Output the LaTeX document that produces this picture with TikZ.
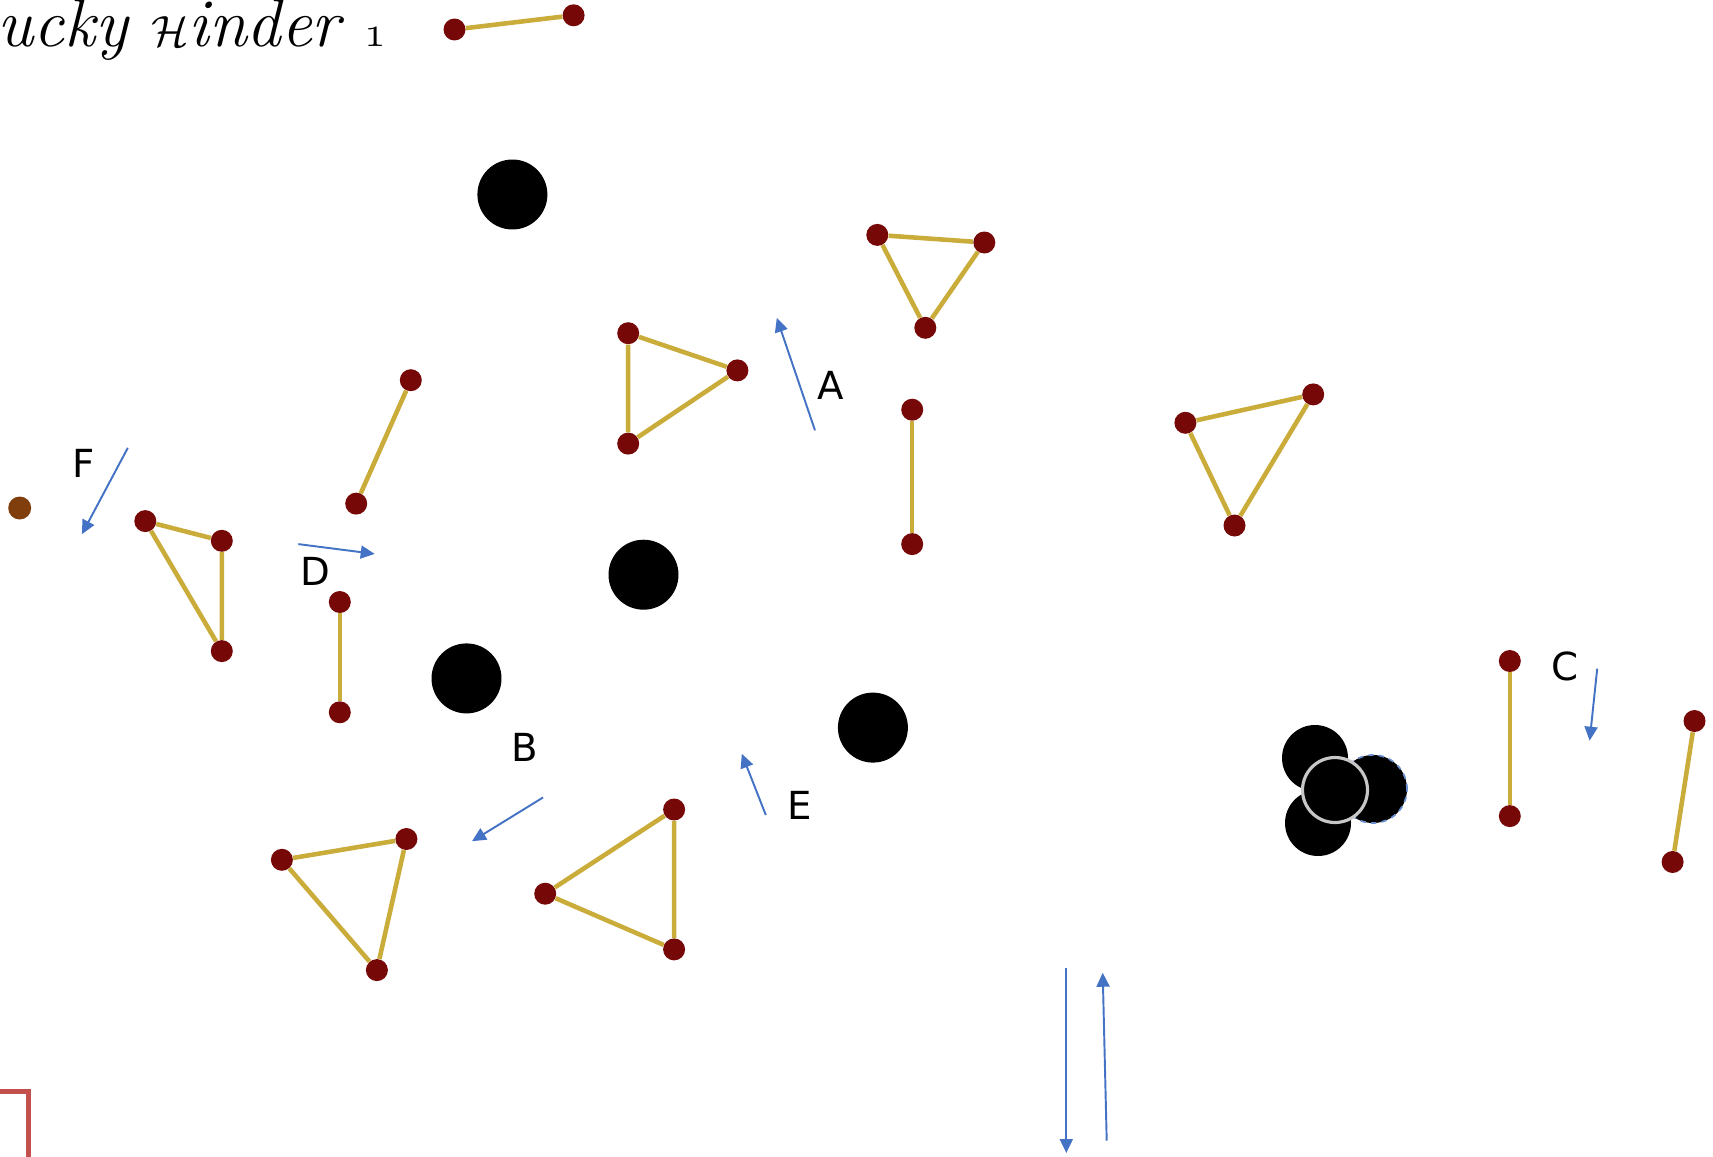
\documentclass[tikz,border=0pt]{standalone}
\usepackage{fontspec}
\newfontfamily\labfont{DejaVu Sans}
\usetikzlibrary{arrows.meta}
\definecolor{dotred}{RGB}{118,8,8}
\definecolor{dotbrown}{RGB}{128,62,12}
\definecolor{stickgold}{RGB}{202,172,58}
\definecolor{arrowblue}{RGB}{68,114,196}
\definecolor{boxred}{RGB}{196,80,77}
\tikzset{
  dot/.style={circle, fill=dotred, inner sep=0pt, minimum size=0.44cm},
  stick/.style={draw=stickgold, line width=2.6pt},
  ball/.style={circle, fill=black, inner sep=0pt, minimum size=1.4cm},
  move/.style={draw=arrowblue, line width=1.1pt, -{Triangle[length=0.28cm,width=0.26cm]}},
  lab/.style={font=\labfont\fontsize{22}{24}\selectfont, inner sep=0pt}
}
\begin{document}
\begin{tikzpicture}[x=0.02cm,y=-0.02cm]
\useasboundingbox (0,0) rectangle (1713,1156);
% title
\node[anchor=base east, inner sep=0pt, font=\fontsize{39}{42}\selectfont\itshape] (title) at (386,46) {Lucky {\usefont{OMS}{cmsy}{m}{n}H}inder {\usefont{OML}{cmm}{m}{it}1}};
% red box corner
\draw[draw=boxred, line width=2.8pt] (-50,1091.7) -- (28.3,1091.7) -- (28.3,1250);
% black balls
\node[ball] (b1) at (512.4,194.5) {};
\node[ball] (b2) at (643.5,574.7) {};
\node[ball] (b3) at (466.5,678.4) {};
\node[ball] (b4) at (872.9,727.6) {};
% cluster
\node[ball, minimum size=1.32cm] (c1) at (1315,758) {};
\node[ball, minimum size=1.32cm] (c2) at (1318,823) {};
\node[ball, minimum size=1.36cm, draw=arrowblue!80, dashed, line width=1pt] (c3) at (1373,789) {};
\node[ball, minimum size=1.3cm, draw=black!22, line width=1.8pt] (c4) at (1335,790) {};
% sticks: top
\node[dot] (t1) at (454.5,29.5) {};
\node[dot] (t2) at (573.6,15.3) {};
\draw[stick] (t1) -- (t2);
% triangle 1
\node[dot] (p1) at (877.3,234.9) {};
\node[dot] (p2) at (984.3,242.5) {};
\node[dot] (p3) at (925.3,327.8) {};
\draw[stick] (p1) -- (p2) -- (p3) -- (p1);
% triangle 2
\node[dot] (q1) at (628.2,333.2) {};
\node[dot] (q2) at (737.4,370.4) {};
\node[dot] (q3) at (628.2,443.6) {};
\draw[stick] (q1) -- (q2) -- (q3) -- (q1);
% vertical stick middle
\node[dot] (v1) at (912.2,409.7) {};
\node[dot] (v2) at (912.2,544.1) {};
\draw[stick] (v1) -- (v2);
% triangle 3
\node[dot] (r1) at (1185.4,422.8) {};
\node[dot] (r2) at (1313.2,394.4) {};
\node[dot] (r3) at (1234.5,525.5) {};
\draw[stick] (r1) -- (r2) -- (r3) -- (r1);
% slanted stick left
\node[dot] (s1) at (410.8,380.2) {};
\node[dot] (s2) at (356.2,503.6) {};
\draw[stick] (s1) -- (s2);
% brown dot
\node[circle, fill=dotbrown, inner sep=0pt, minimum size=0.46cm] (bd) at (19.7,508) {};
% triangle 4
\node[dot] (u1) at (145.3,521.1) {};
\node[dot] (u2) at (221.8,540.8) {};
\node[dot] (u3) at (221.8,651.1) {};
\draw[stick] (u1) -- (u2) -- (u3) -- (u1);
% vertical stick left
\node[dot] (w1) at (339.8,602) {};
\node[dot] (w2) at (339.8,712.3) {};
\draw[stick] (w1) -- (w2);
% triangle 5
\node[dot] (x1) at (281.9,859.8) {};
\node[dot] (x2) at (406.4,839) {};
\node[dot] (x3) at (376.9,970.1) {};
\draw[stick] (x1) -- (x2) -- (x3) -- (x1);
% triangle 6
\node[dot] (y1) at (674.1,809.5) {};
\node[dot] (y2) at (545.2,893.7) {};
\node[dot] (y3) at (674.1,949.4) {};
\draw[stick] (y1) -- (y2) -- (y3) -- (y1);
% stick C
\node[dot] (z1) at (1509.8,661) {};
\node[dot] (z2) at (1509.8,816.1) {};
\draw[stick] (z1) -- (z2);
% right stick
\node[dot] (k1) at (1694.5,721) {};
\node[dot] (k2) at (1672.6,862) {};
\draw[stick] (k1) -- (k2);
% arrows
\coordinate (a0) at (815,430.4); \coordinate (a1) at (776.8,317.9);
\draw[move] (a0) -- (a1);
\coordinate (f0) at (127.8,447.9); \coordinate (f1) at (81.9,534.2);
\draw[move] (f0) -- (f1);
\coordinate (d0) at (298.3,544.1); \coordinate (d1) at (374.7,553.9);
\draw[move] (d0) -- (d1);
\coordinate (bb0) at (543,797.5); \coordinate (bb1) at (472,841.2);
\draw[move] (bb0) -- (bb1);
\coordinate (e0) at (765.8,815); \coordinate (e1) at (741.8,753.8);
\draw[move] (e0) -- (e1);
\coordinate (cc0) at (1597.2,668.6); \coordinate (cc1) at (1589.6,740.7);
\draw[move] (cc0) -- (cc1);
\coordinate (g0) at (1066.3,968); \coordinate (g1) at (1066.3,1153);
\draw[move] (g0) -- (g1);
\coordinate (h0) at (1106.7,1140.7); \coordinate (h1) at (1102.7,972.7);
\draw[move] (h0) -- (h1);
% labels
\node[lab] (lA) at (830.3,385.7) {A};
\node[lab] (lB) at (524.4,747.3) {B};
\node[lab] (lC) at (1564.5,666.4) {C};
\node[lab] (lD) at (315.7,571.4) {D};
\node[lab] (lE) at (799.7,805.2) {E};
\node[lab] (lF) at (84.1,463.2) {F};
\end{tikzpicture}
\end{document}
